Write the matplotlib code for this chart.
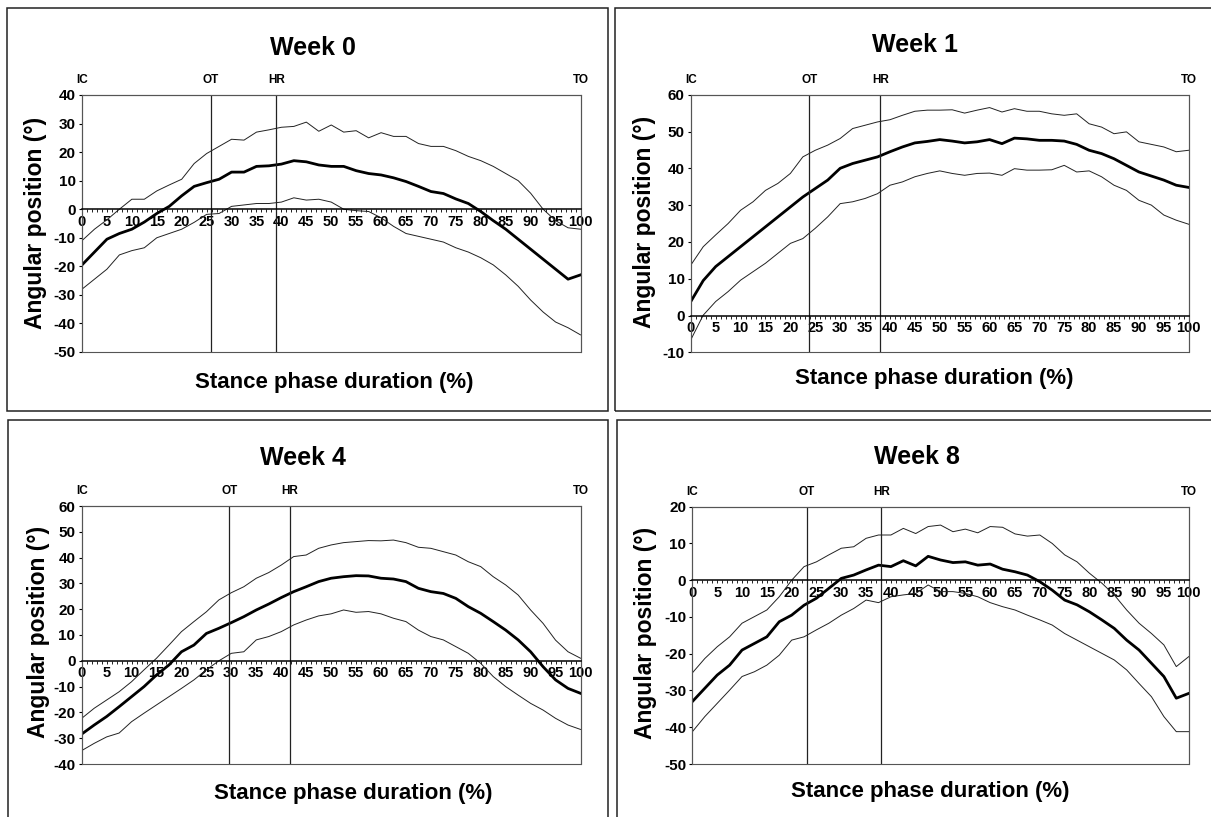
import numpy as np
import matplotlib
matplotlib.use('Agg')
import matplotlib.pyplot as plt
from matplotlib.patches import Rectangle
from matplotlib.ticker import MultipleLocator

plt.rcParams['font.family'] = ['Liberation Sans', 'DejaVu Sans']
plt.rcParams['axes.unicode_minus'] = False

# stance phase grid (%)
stance = np.arange(0, 101, 2.5)

titles = ['Week 0', 'Week 1', 'Week 4', 'Week 8']
ylims = [(-50, 40), (-10, 60), (-40, 60), (-50, 20)]
ot_pos = [25.8, 23.8, 29.6, 23.0]
hr_pos = [39.0, 38.1, 41.7, 38.1]

week0_mean = [-19.5, -15, -10.5, -8.5, -7, -4.5, -1.5, 1, 4.7, 8, 9.3, 10.5, 13, 13, 15, 15.2, 15.8, 17, 16.6, 15.5,
              15, 15, 13.5, 12.5, 12, 11, 9.7, 8, 6.2, 5.5, 3.6, 2, -0.8, -4, -7, -10.5, -14, -17.5, -21, -24.5, -23]
week0_upper = [-11, -7, -3.7, 0, 3.5, 3.5, 6.4, 8.5, 10.5, 16, 19.5, 22, 24.5, 24.2, 27, 27.8, 28.7, 29, 30.5, 27.3,
               29.5, 27, 27.5, 25, 26.8, 25.5, 25.5, 23, 22, 22, 20.5, 18.5, 17, 15, 12.5, 10, 5.6, 0, -4, -6.5, -7]
week0_lower = [-28, -24.5, -21, -16, -14.5, -13.5, -10, -8.5, -7, -4.6, -1.8, -1.5, 1, 1.5, 2, 2, 2.5, 4, 3.2, 3.5,
               2.5, 0, -0.5, -0.8, -3, -6, -8.5, -9.5, -10.5, -11.5, -13.5, -15, -17, -19.5, -23, -27, -31.8, -36,
               -39.5, -41.5, -44]

week1_mean = [3.8, 9.5, 13.3, 16, 18.7, 21.4, 24.1, 26.8, 29.5, 32.2, 34.5, 36.8, 40, 41.3, 42.2, 43.1, 44.5, 45.8,
              46.9, 47.3, 47.8, 47.4, 46.9, 47.2, 47.8, 46.7, 48.2, 48, 47.6, 47.6, 47.4, 46.5, 44.9, 44, 42.6, 40.8,
              39, 37.9, 36.8, 35.4, 34.8]
week1_upper = [13.7, 18.7, 21.9, 25, 28.6, 30.9, 34, 35.9, 38.6, 43.1, 44.9, 46.3, 48.1, 50.8, 51.7, 52.6, 53.2, 54.4,
               55.5, 55.8, 55.8, 55.9, 55, 55.8, 56.5, 55.3, 56.2, 55.5, 55.5, 54.8, 54.4, 54.8, 52.1, 51.2, 49.4,
               49.9, 47.2, 46.5, 45.8, 44.5, 44.9]
week1_lower = [-6.6, 0.1, 3.8, 6.5, 9.6, 11.9, 14.2, 16.9, 19.6, 20.9, 23.7, 26.8, 30.4, 30.9, 31.8, 33.1, 35.4, 36.3,
               37.7, 38.6, 39.3, 38.6, 38.1, 38.6, 38.7, 38.1, 39.9, 39.5, 39.5, 39.6, 40.8, 39, 39.3, 37.7, 35.4, 34,
               31.3, 30, 27.3, 25.9, 24.8]

week4_mean = [-28.4, -24.9, -21.6, -17.8, -13.9, -10, -5.5, -1.6, 3.5, 6.1, 10.6, 12.6, 14.8, 17.1, 19.7, 22, 24.5,
              26.8, 28.7, 30.7, 32, 32.6, 33, 32.9, 32, 31.7, 30.7, 28.1, 26.8, 26.1, 24.2, 21, 18.4, 15.2, 11.9, 8.1,
              3.5, -2.3, -7.4, -10.7, -12.6]
week4_upper = [-22.3, -18.4, -15.2, -12, -8.1, -3.5, 1, 6.1, 11.3, 15.2, 19, 23.6, 26.4, 28.7, 32, 34.2, 37.1, 40.4,
               41, 43.6, 44.9, 45.8, 46.2, 46.6, 46.5, 46.8, 45.8, 44, 43.6, 42.3, 41, 38.4, 36.5, 32.6, 29.4, 25.5,
               19.7, 14.5, 8, 3.5, 1]
week4_lower = [-34.8, -32, -29.5, -28, -23.6, -20.3, -17.1, -13.9, -10.7, -7.4, -3.5, 0, 2.9, 3.5, 8.1, 9.4, 11.3,
               13.9, 15.8, 17.4, 18.2, 19.7, 18.8, 19.1, 18.2, 16.5, 15.2, 11.9, 9.4, 8.1, 5.5, 2.9, -1, -6.1, -10,
               -13.3, -16.5, -19.1, -22.3, -24.9, -26.6]

week8_mean = [-33, -29.4, -25.8, -23.1, -19, -17.2, -15.4, -11.3, -9.5, -6.8, -4.9, -2.2, 0.5, 1.4, 2.8, 4.1, 3.7,
              5.3, 3.9, 6.5, 5.5, 4.8, 5, 4.1, 4.4, 3, 2.3, 1.4, -0.4, -2.7, -5.4, -6.7, -8.6, -10.8, -13.1, -16.3,
              -19, -22.6, -26.2, -32.1, -30.8]
week8_upper = [-25.2, -21.3, -18.1, -15.4, -11.7, -9.9, -8.1, -4.5, 0, 3.7, 5, 6.9, 8.7, 9.1, 11.4, 12.3, 12.3, 14.1,
               12.7, 14.6, 15, 13.2, 13.9, 12.9, 14.6, 14.4, 12.6, 12, 12.3, 10, 6.9, 5, 1.9, -0.8, -4, -8.1, -11.7,
               -14.5, -17.6, -23.5, -20.8]
week8_lower = [-41.2, -37.1, -33.5, -29.9, -26.2, -24.9, -23.1, -20.4, -16.3, -15.4, -13.5, -11.7, -9.5, -7.7, -5.4,
               -6.1, -4.5, -4, -3.6, -1.3, -3.1, -3.1, -3.6, -4.5, -6.1, -7.2, -8.1, -9.5, -10.8, -12.2, -14.5, -16.3,
               -18.1, -19.9, -21.7, -24.4, -28.1, -31.7, -37.1, -41.2, -41.2]

means = [week0_mean, week1_mean, week4_mean, week8_mean]
uppers = [week0_upper, week1_upper, week4_upper, week8_upper]
lowers = [week0_lower, week1_lower, week4_lower, week8_lower]

W, H = 1211, 817
fig = plt.figure(figsize=(W / 100, H / 100), dpi=100)


def fx(px):
    return px / W


def fy(py):
    return 1 - py / H


# layout in pixels: axes box (left, right, top, bottom), title, xlabel, ylabel centres, panel frame
axes_px = [(82, 580.5, 95, 352), (690.8, 1188.7, 94.7, 352.3), (81.7, 580.5, 506, 764), (692.4, 1188.7, 506.7, 764)]
title_px = [(313, 48), (915, 45), (303, 458), (917, 457)]
xlab_px = [(334, 382), (934, 378), (353, 793), (930, 792)]
ylab_px = [(36, 223), (644.5, 222), (39, 632), (645.6, 633)]
frame_px = [(7, 607.7, 8, 410.7), (615, 1216, 8, 410.7), (8, 607.7, 420, 822), (616.7, 1216, 420, 822)]

for i in range(4):
    l, r, t, b = axes_px[i]
    ax = fig.add_axes([fx(l), fy(b), (r - l) / W, (b - t) / H])
    ax.set_xlim(0, 100)
    ax.set_ylim(*ylims[i])

    ax.plot(stance, uppers[i], color='#222222', lw=0.7)
    ax.plot(stance, lowers[i], color='#222222', lw=0.7)
    ax.plot(stance, means[i], color='black', lw=2.0)

    ax.axvline(ot_pos[i], color='#222222', lw=0.9)
    ax.axvline(hr_pos[i], color='#222222', lw=0.9)

    # x axis runs along zero
    for s in ['top', 'left', 'right']:
        ax.spines[s].set_color('#555555')
        ax.spines[s].set_linewidth(0.8)
    ax.spines['bottom'].set_position(('data', 0))
    ax.spines['bottom'].set_linewidth(1.1)
    ax.spines['bottom'].set_color('black')
    ax.add_patch(Rectangle((0, 0), 1, 1, transform=ax.transAxes, fill=False,
                           edgecolor='#555555', lw=0.8, clip_on=False))

    ax.xaxis.set_major_locator(MultipleLocator(5))
    ax.xaxis.set_minor_locator(MultipleLocator(1))
    ax.yaxis.set_major_locator(MultipleLocator(10))
    ax.tick_params(axis='x', which='both', direction='out', length=2.5, width=0.6, pad=1.5,
                   labelsize=10.5, color='black')
    ax.tick_params(axis='y', direction='out', length=2.5, width=0.8, pad=2, labelsize=11)
    for lab in ax.get_xticklabels() + ax.get_yticklabels():
        lab.set_fontweight('bold')

    tr = ax.get_xaxis_transform()
    for xpos, name in zip([0, ot_pos[i], hr_pos[i], 100], ['IC', 'OT', 'HR', 'TO']):
        ax.text(xpos, 1.035, name, transform=tr, ha='center', va='bottom', fontsize=8.5,
                fontweight='bold')

    fig.text(fx(title_px[i][0]), fy(title_px[i][1]), titles[i], ha='center', va='center',
             fontsize=18, fontweight='bold')
    fig.text(fx(xlab_px[i][0]), fy(xlab_px[i][1]), 'Stance phase duration (%)', ha='center', va='center',
             fontsize=16, fontweight='bold')
    fig.text(fx(ylab_px[i][0]), fy(ylab_px[i][1]), 'Angular position (°)', ha='center', va='center',
             rotation=90, fontsize=16.5, fontweight='bold')

    fl, fr, ft, fb = frame_px[i]
    fig.add_artist(Rectangle((fx(fl), fy(fb)), (fr - fl) / W, (fb - ft) / H, transform=fig.transFigure,
                             fill=False, edgecolor='#222222', lw=1.1))

fig.savefig('out.png', dpi=100)
